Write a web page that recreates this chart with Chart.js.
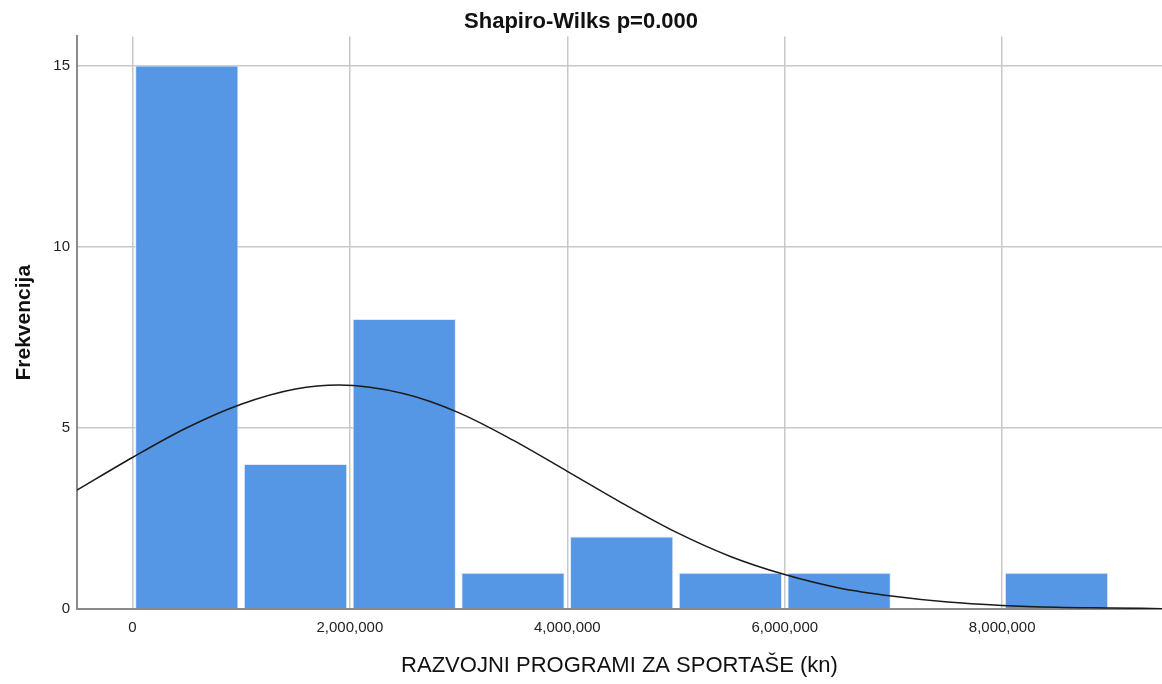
<!DOCTYPE html>
<html>
<head>
<meta charset="utf-8">
<script src="https://cdn.jsdelivr.net/npm/chart.js@4/dist/chart.umd.min.js"></script>
<style>
  body { margin: 0; background: #fff; }
  #wrap { width: 1162px; height: 684px; }
</style>
</head>
<body>
<div id="wrap"><canvas id="histChart"></canvas></div>
<script>
// histogram bins (centre of each 1,000,000 kn bin) and their counts
var binCenters = [500000, 1500000, 2500000, 3500000, 4500000, 5500000, 6500000, 7500000, 8500000];
var counts = [15, 4, 8, 1, 2, 1, 1, 0, 1];

// normal curve
var curveX = [-510000, 0, 500000, 1000000, 1500000, 1900000, 2500000, 3000000, 3500000, 4000000,
              4500000, 5000000, 5500000, 6000000, 6500000, 7000000, 7500000, 8000000, 8500000, 9000000, 9470000];
var curveY = [3.28, 4.18, 5.0, 5.65, 6.07, 6.18, 5.94, 5.42, 4.66, 3.8,
              2.93, 2.12, 1.45, 0.95, 0.58, 0.35, 0.19, 0.10, 0.05, 0.03, 0.01];

var xTicks = [0, 2000000, 4000000, 6000000, 8000000];
var yTicks = [0, 5, 10, 15];

var FONT = "'Liberation Sans', Arial, sans-serif";

var ctx = document.getElementById('histChart').getContext('2d');
var chart = new Chart(ctx, {
    type: 'bar',
    data: {
        datasets: [{
            type: 'line',
            label: 'Normal',
            data: curveX.map(function (x, i) { return { x: x, y: curveY[i] }; }),
            borderColor: '#1a1a1a',
            borderWidth: 1.5,
            pointRadius: 0,
            cubicInterpolationMode: 'monotone',
            fill: false,
            order: 0
        }, {
            label: 'Frekvencija',
            data: binCenters.map(function (x, i) { return { x: x, y: counts[i] }; }),
            backgroundColor: '#5596e5',
            borderColor: '#dce9fa',
            borderWidth: { left: 1, right: 1, top: 1, bottom: 0 },
            borderSkipped: 'bottom',
            barPercentage: 0.95,
            categoryPercentage: 1,
            order: 1
        }]
    },
    options: {
        responsive: true,
        maintainAspectRatio: false,
        animation: false,
        layout: { padding: 0 },
        plugins: {
            legend: { display: false },
            tooltip: { enabled: false },
            title: {
                display: true,
                text: 'Shapiro-Wilks p=0.000',
                color: '#111',
                font: { family: FONT, size: 22, weight: 'bold' },
                padding: { top: 9, bottom: 1 }
            }
        },
        scales: {
            x: {
                type: 'linear',
                offset: false,
                min: -510000,
                max: 9470000,
                afterBuildTicks: function (scale) {
                    scale.ticks = xTicks.map(function (v) { return { value: v }; });
                },
                afterFit: function (scale) { scale.height = 75; },
                ticks: {
                    color: '#222',
                    padding: 10,
                    maxRotation: 0,
                    font: { family: FONT, size: 15 },
                    callback: function (v) { return v.toLocaleString('en-US'); }
                },
                grid: {
                    offset: false,
                    color: '#c8c8c8',
                    lineWidth: 1.5,
                    drawTicks: false
                },
                border: { color: '#8a8a8a', width: 2 },
                title: {
                    display: true,
                    text: 'RAZVOJNI PROGRAMI ZA SPORTAŠE (kn)',
                    color: '#111',
                    font: { family: FONT, size: 22 },
                    padding: { top: 0, bottom: 5 }
                }
            },
            y: {
                min: 0,
                max: 15.8,
                afterBuildTicks: function (scale) {
                    scale.ticks = yTicks.map(function (v) { return { value: v }; });
                },
                afterFit: function (scale) { scale.width = 77; },
                ticks: {
                    color: '#222',
                    padding: 7,
                    font: { family: FONT, size: 15 }
                },
                grid: {
                    color: '#c8c8c8',
                    lineWidth: 1.5,
                    drawTicks: false
                },
                border: { color: '#8a8a8a', width: 2 },
                title: {
                    display: true,
                    text: 'Frekvencija',
                    color: '#111',
                    font: { family: FONT, size: 21, weight: 'bold' },
                    padding: { top: 12, bottom: 0 }
                }
            }
        }
    }
});
</script>
</body>
</html>
